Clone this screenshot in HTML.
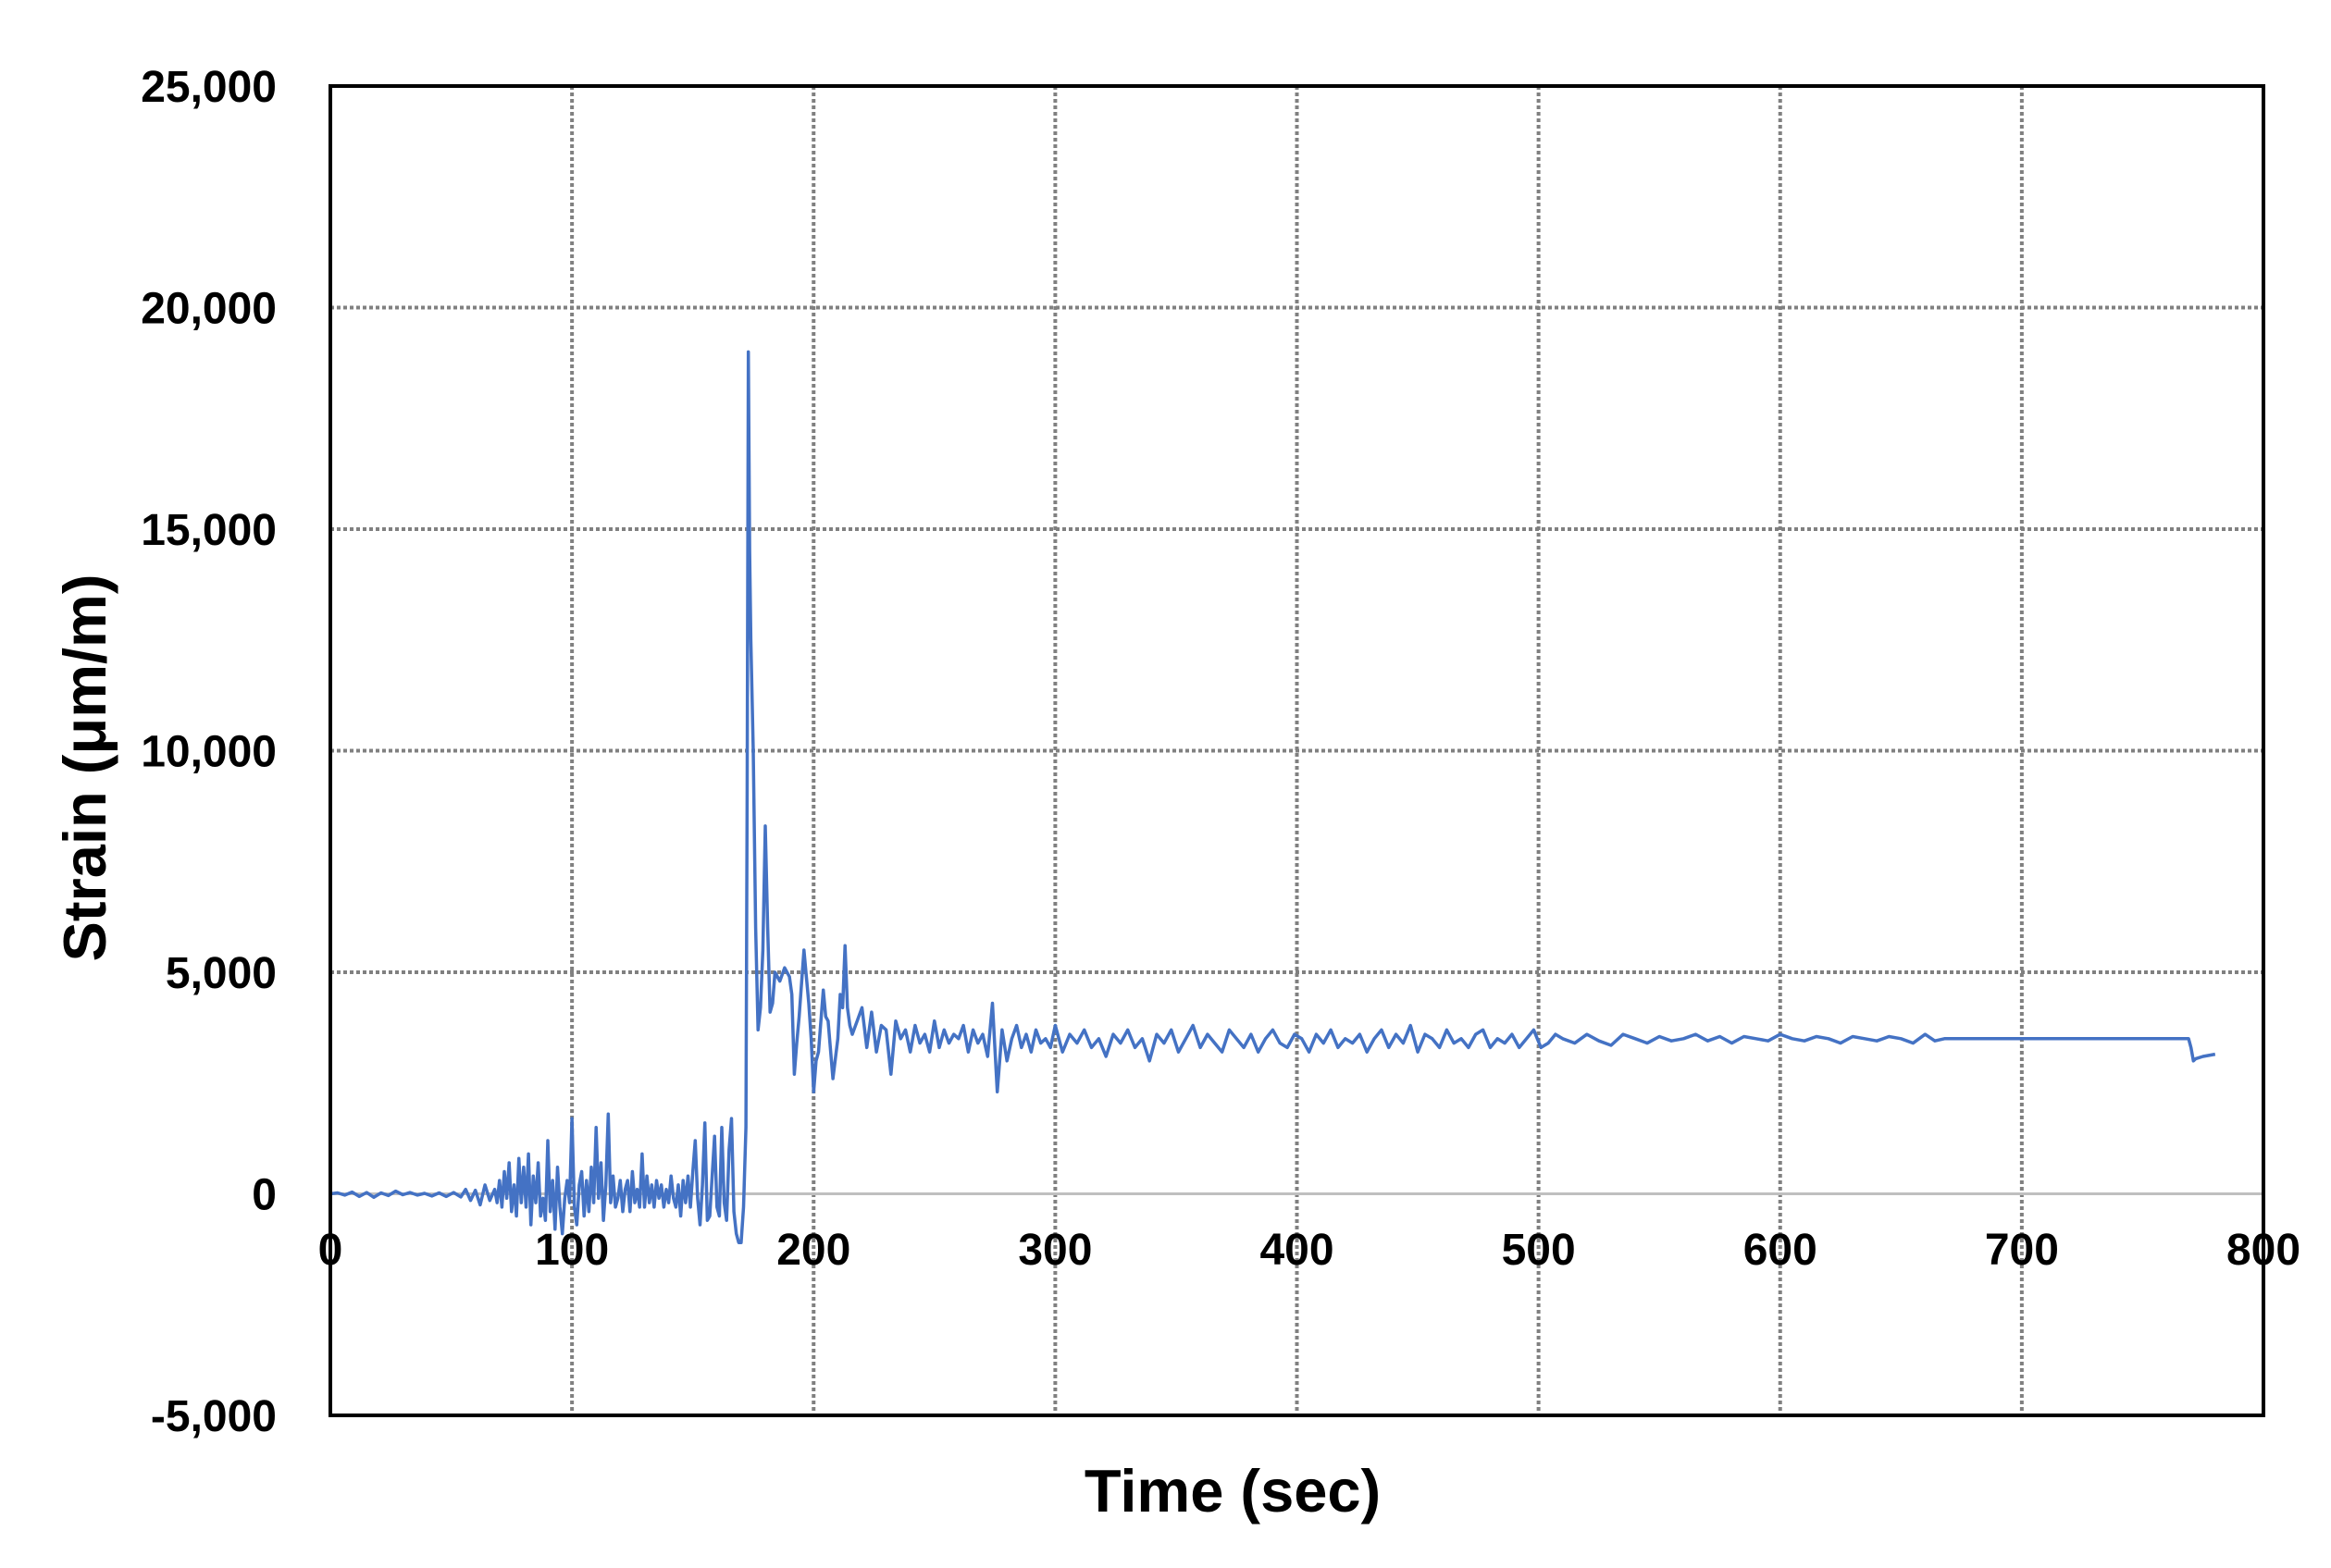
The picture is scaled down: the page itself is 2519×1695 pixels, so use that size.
<!DOCTYPE html>
<html><head><meta charset="utf-8"><style>
html,body{margin:0;padding:0;background:#fff;}
svg{display:block;font-family:"Liberation Sans",Arial,sans-serif;font-weight:bold;}
</style></head><body>
<svg id="chart" width="2519" height="1695" viewBox="0 0 2519 1695" xmlns="http://www.w3.org/2000/svg">
<rect x="0" y="0" width="2519" height="1695" fill="#fff"/>
<g id="grid"></g>
<g id="series"></g>
<rect x="357" y="93" width="2089" height="1437" fill="none" stroke="#000" stroke-width="4"/>
<g id="xticks"></g>
<g id="yticks"></g>
<text x="1332" y="1634" font-size="65" text-anchor="middle" fill="#000">Time (sec)</text>
<text x="0" y="0" font-size="65" text-anchor="middle" fill="#000" transform="translate(114,830) rotate(-90)">Strain (μm/m)</text>
</svg>
<script>
const xTicks = [0,100,200,300,400,500,600,700,800];
const yTicks = [-5000,0,5000,10000,15000,20000,25000];
const yTickLabels = ["-5,000","0","5,000","10,000","15,000","20,000","25,000"];

const timesA = [0,3,6,9,12,15,18,21,24,27, 30,33,36,39,42,45,48,51,54, 56,58,60,62,64,66,68];
const strainA = [0,20,-30,40,-60,30,-80,20,-40,60, -20,30,-30,10,-50,20,-60,30,-70, 100,-150,80,-250,200,-150,100];

const timesB = [69,70,71,72,73,74,75,76,77,78, 79,80,81,82,83,84,85,86,87,88, 89,90,91,92,93,94,95,96,97,98, 99,100,101,102,103,104,105,106,107,108, 109,110,111,112,113,114,115,116,117,118, 119,120,121,122,123,124,125,126,127,128, 129,130,131,132,133,134,135,136,137,138, 139,140,141,142,143,144,145,146,147,148, 149,150,151,152,153,154,155,156,157,158, 159,160,161,162,163,164,165,166,167,168, 169,170,171];
const strainB = [-200,300,-300,500,-100,700,-400,200,-500,800, -200,600,-300,900,-700,400,-200,700,-500,-100, -600,1200,-400,300,-800,600,-300,-900,-100,300, -200,1700,-300,-700,200,500,-500,300,-400,600, -200,1500,-100,700,-600,200,1800,-200,400,-300, -100,300,-400,100,300,-400,500,-200,100,-300, 900,-300,400,-200,200,-300,300,-100,200,-300, 100,-200,400,-100,-300,200,-500,300,-200,400, -300,500,1200,-100,-700,200,1600,-600,-500,400, 1300,-300,-500,1500,-200,-600,1000,1700,-400,-900, -1100,-1100,-300];

const timesC = [172,172.5,173,173.5,174,175,176,177,178,179, 180,181,182,183,184, 186,188,190,191,192,193,194,196,198,199, 200,201,202,204,205,206,208,210,211,212, 213,214,215,216,218];
const strainC = [1500,9000,19000,14500,12500,10000,6000,3700,4200,5500, 8300,6000,4100,4300,5000, 4800,5100,4900,4500,2700,3400,4000,5500,4300,3500, 2300,3000,3200,4600,4000,3900,2600,3500,4500,4200, 5600,4200,3800,3600,3900];

const timesD1 = [220,222,224,226,228,230,232,234,236,238, 240,242,244,246,248,250,252,254,256,258, 260,262,264,266,268,270,272,274,276,278, 280,282,284,286,288,290,292,294,296,298];
const strainD1 = [4200,3300,4100,3200,3800,3700,2700,3900,3500,3700, 3200,3800,3400,3600,3200,3900,3300,3700,3400,3600, 3500,3800,3200,3700,3400,3600,3100,4300,2300,3700, 3000,3500,3800,3300,3600,3200,3700,3400,3500,3300];

const timesD2 = [300,303,306,309,312,315,318,321,324,327, 330,333,336,339,342,345,348,351,354,357, 360,363,366,369,372,375,378,381,384,387, 390,393,396,399,402,405,408,411,414,417, 420,423,426,429,432,435,438,441,444,447, 450,453,456,459,462,465,468,471,474,477, 480,483,486,489,492,495,498,501,504,507];
const strainD2 = [3800,3200,3600,3400,3700,3300,3500,3100,3600,3400, 3700,3300,3500,3000,3600,3400,3700,3200,3500,3800, 3300,3600,3400,3200,3700,3500,3300,3600,3200,3500, 3700,3400,3300,3600,3500,3200,3600,3400,3700,3300, 3500,3400,3600,3200,3500,3700,3300,3600,3400,3800, 3200,3600,3500,3300,3700,3400,3500,3300,3600,3700, 3300,3500,3400,3600,3300,3500,3700,3300,3400,3600];

const timesD3 = [510,515,520,525,530,535,540,545,550,555, 560,565,570,575,580,585,590,595,600,605, 610,615,620,625,630,635,640,645,650,655, 660,664,668,672];
const strainD3 = [3500,3400,3600,3450,3350,3600,3500,3400,3550,3450, 3500,3600,3450,3550,3400,3550,3500,3450,3600,3500, 3450,3550,3500,3400,3550,3500,3450,3550,3500,3400, 3600,3450,3500,3500];

const timesE = [700,740,769,770,771,772,775,780];
const strainE = [3500,3500,3500,3300,3000,3050,3100,3150];

const times = [...timesA,...timesB,...timesC,...timesD1,...timesD2,...timesD3,...timesE];
const strain = [...strainA,...strainB,...strainC,...strainD1,...strainD2,...strainD3,...strainE];

const L=357,R=2446,T=93,B=1530;
const xs = v => L + v/800*(R-L);
const ys = v => B - (v+5000)/30000*(B-T);
const NS="http://www.w3.org/2000/svg";
const grid=document.getElementById('grid');
xTicks.slice(1,-1).forEach(t=>{
  const l=document.createElementNS(NS,'line');
  
  
  l.setAttribute('x1',xs(t));l.setAttribute('x2',xs(t));l.setAttribute('y1',T);l.setAttribute('y2',B);
  l.setAttribute('stroke','#808080');l.setAttribute('stroke-width','4');l.setAttribute('stroke-dasharray','4 3');
  grid.appendChild(l);
});
yTicks.forEach(t=>{
  if(t===-5000||t===25000) return;
  const l=document.createElementNS(NS,'line');
  
  
  l.setAttribute('x1',L);l.setAttribute('x2',R);l.setAttribute('y1',ys(t));l.setAttribute('y2',ys(t));
  if(t===0){l.setAttribute('stroke','#bfbfbf');l.setAttribute('stroke-width','3');}
  else{l.setAttribute('stroke','#808080');l.setAttribute('stroke-width','4');l.setAttribute('stroke-dasharray','4 3');}
  grid.appendChild(l);
});
const n=Math.min(times.length,strain.length);
const pts=[];
for(let i=0;i<n;i++) pts.push(xs(times[i]).toFixed(1)+','+ys(strain[i]).toFixed(1));
const p=document.createElementNS(NS,'polyline');


p.setAttribute('points',pts.join(' '));
p.setAttribute('fill','none');p.setAttribute('stroke','#4472C4');p.setAttribute('stroke-width','3.5');p.setAttribute('stroke-linejoin','round');
document.getElementById('series').appendChild(p);
const xt=document.getElementById('xticks');
xTicks.forEach(t=>{
  const e=document.createElementNS(NS,'text');
  
  
  e.setAttribute('x',xs(t));e.setAttribute('y',1367);e.setAttribute('font-size','48');e.setAttribute('text-anchor','middle');
  e.textContent=t;xt.appendChild(e);
});
const yt=document.getElementById('yticks');
yTicks.forEach((t,i)=>{
  const e=document.createElementNS(NS,'text');
  
  
  e.setAttribute('x',299);e.setAttribute('y',ys(t)+17);e.setAttribute('font-size','48');e.setAttribute('text-anchor','end');
  e.textContent=yTickLabels[i];yt.appendChild(e);
});
</script>
</body></html>
